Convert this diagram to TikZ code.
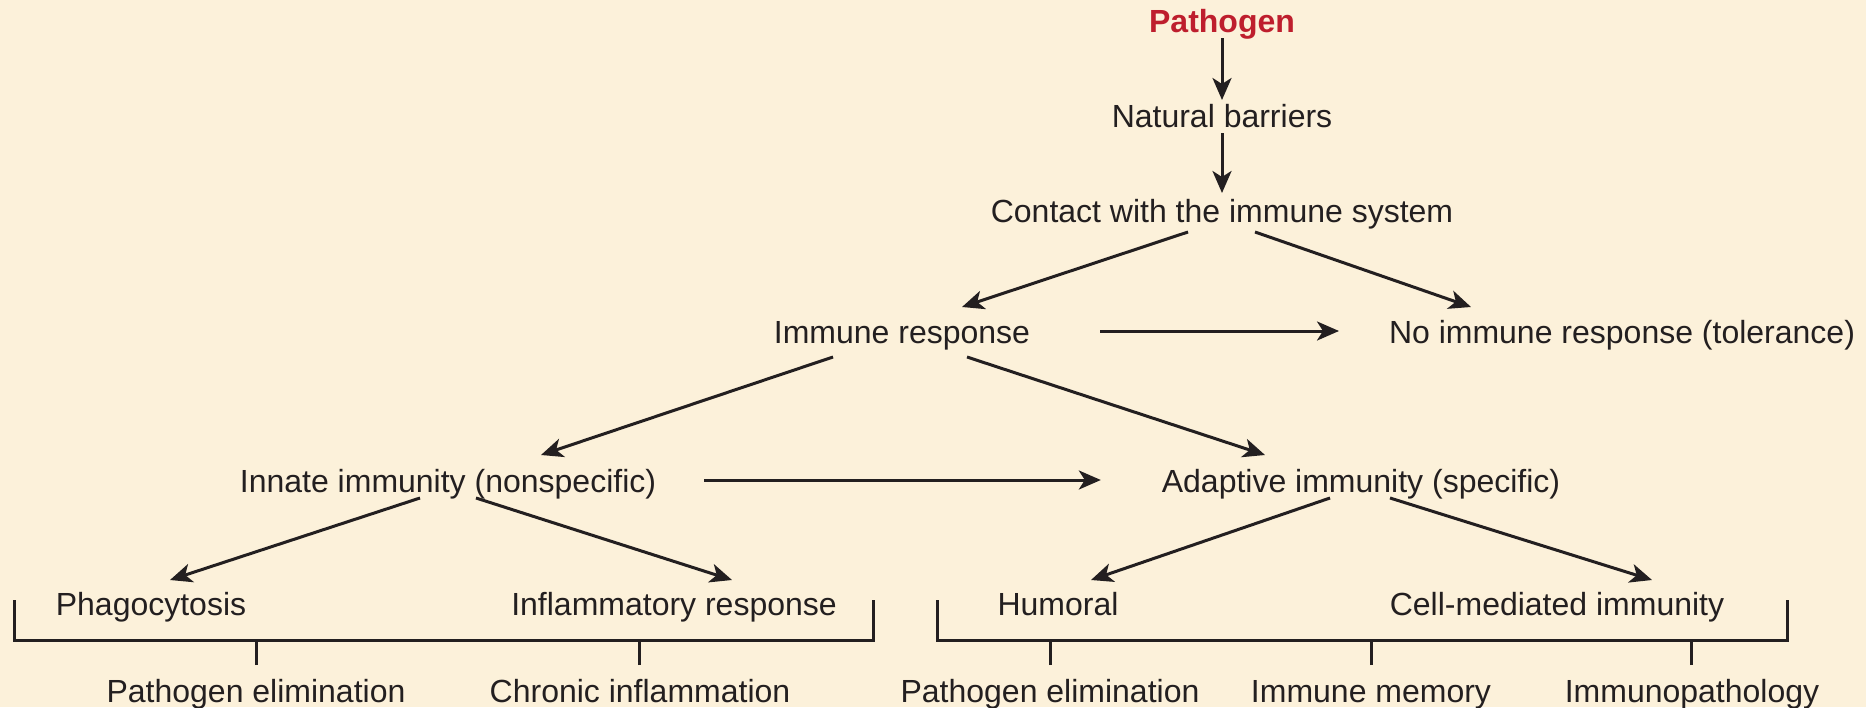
\documentclass[tikz,border=0pt]{standalone}
\usepackage{fontspec}
\setmainfont{Liberation Sans}
\usepackage{xcolor}
\usepackage{tikz}
\usetikzlibrary{arrows.meta, positioning}

\definecolor{creambg}{RGB}{252,241,218}
\definecolor{inkdark}{RGB}{35,31,32}
\definecolor{pathred}{RGB}{190,30,45}

\begin{document}
\begin{tikzpicture}[
    x=1pt, y=-1pt,
    node distance=65pt,
    % Defining node styles
    term/.style={inner sep=0pt, outer sep=0pt, text height=24pt, text depth=6pt, font=\fontsize{32}{38}\selectfont, text=inkdark},
    source/.style={term, font=\fontsize{32}{38}\selectfont\bfseries, text=pathred},
    connector/.style={-{Stealth[length=22pt, width=19pt, inset=6pt]}, line width=3pt, draw=inkdark},
    bracket/.style={line width=3pt, draw=inkdark}
  ]

  % Background and page size
  \fill[creambg] (0,0) rectangle (1866,707);
  \useasboundingbox (0,0) rectangle (1866,707);

  % Placing the main chain vertically
  \node[source] (pathogen) at (1222,23) {Pathogen};
  \node[term, below=of pathogen] (natural) {Natural barriers};
  \node[term, below=of natural] (contact) {Contact with the immune system};

  % Second and third levels
  \node[term] (immune) at (902,334) {Immune response};
  \node[term] (tolerance) at (1622,334) {No immune response (tolerance)};
  \node[term] (innate) at (448,483) {Innate immunity (nonspecific)};
  \node[term] (adaptive) at (1361,483) {Adaptive immunity (specific)};

  % Effector branches
  \node[term] (phago) at (151,606) {Phagocytosis};
  \node[term] (inflam) at (674,606) {Inflammatory response};
  \node[term] (humoral) at (1058,606) {Humoral};
  \node[term] (cellmed) at (1557,606) {Cell-mediated immunity};

  % Outcomes
  \node[term] (elimA) at (256,693) {Pathogen elimination};
  \node[term] (chronic) at (640,693) {Chronic inflammation};
  \node[term] (elimB) at (1050,693) {Pathogen elimination};
  \node[term] (memory) at (1371,693) {Immune memory};
  \node[term] (patho) at (1692,693) {Immunopathology};

  % Drawing connections
  \draw[connector] (pathogen) -- ([yshift=3pt]natural.north);
  \draw[connector] (natural) -- ([yshift=5pt]contact.north);
  \draw[connector] ([xshift=-34pt,yshift=-4pt]contact.south) -- ([xshift=60pt,yshift=12pt]immune.north);
  \draw[connector] ([xshift=33pt,yshift=-4pt]contact.south) -- ([xshift=-151pt,yshift=12pt]tolerance.north);
  \draw[connector] ([xshift=70pt,yshift=3pt]immune.east) -- ([xshift=-50pt,yshift=3pt]tolerance.west);
  \draw[connector] ([xshift=-69pt,yshift=-8pt]immune.south) -- ([xshift=93pt,yshift=13pt]innate.north);
  \draw[connector] ([xshift=65pt,yshift=-8pt]immune.south) -- ([xshift=-96pt,yshift=13pt]adaptive.north);
  \draw[connector] ([xshift=48pt,yshift=3pt]innate.east) -- ([xshift=-61pt,yshift=3pt]adaptive.west);
  \draw[connector] ([xshift=-28pt]innate.south) -- ([xshift=19pt,yshift=11pt]phago.north);
  \draw[connector] ([xshift=28pt]innate.south) -- ([xshift=58pt,yshift=11pt]inflam.north);
  \draw[connector] ([xshift=-31pt]adaptive.south) -- ([xshift=33pt,yshift=11pt]humoral.north);
  \draw[connector] ([xshift=29pt]adaptive.south) -- ([xshift=95pt,yshift=11pt]cellmed.north);

  % Brackets under the effector branches
  \draw[bracket] (14,600) |- (873,640) -- (873,600);
  \draw[bracket] (937,600) |- (1787,640) -- (1787,600);

  % Ticks from the brackets to the outcomes
  \draw[bracket] ([yshift=13pt]elimA.north) -- ++(0,-25);
  \draw[bracket] ([xshift=-1pt,yshift=13pt]chronic.north) -- ++(0,-25);
  \draw[bracket] ([yshift=13pt]elimB.north) -- ++(0,-25);
  \draw[bracket] ([yshift=13pt]memory.north) -- ++(0,-25);
  \draw[bracket] ([xshift=-1pt,yshift=13pt]patho.north) -- ++(0,-25);

\end{tikzpicture}
\end{document}
